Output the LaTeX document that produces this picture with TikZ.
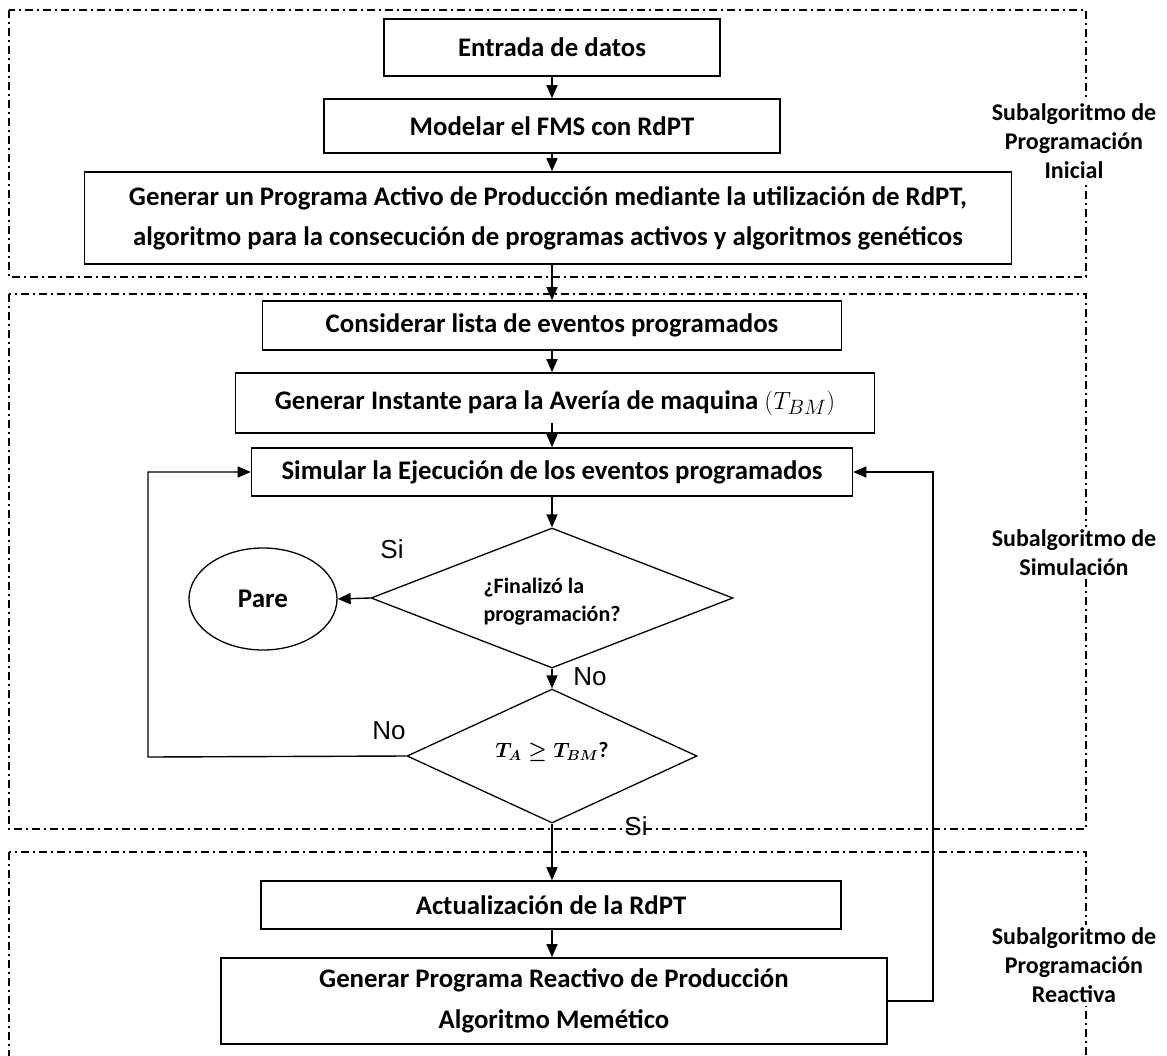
\documentclass[tikz,border=0pt]{standalone}
\usepackage{fontspec}
\setmainfont{Carlito}
\newfontfamily\labelfont{Liberation Sans}
\usetikzlibrary{shapes.geometric,arrows.meta}

\newcommand\bxfont{\fontsize{26.8}{33}\selectfont\bfseries}
\newcommand\smfont{\fontsize{22}{28}\selectfont\bfseries}
\newcommand\sidefont{\fontsize{24}{29}\selectfont\bfseries}
\newcommand\ynfont{\labelfont\fontsize{26}{30}\selectfont}

\begin{document}
\begin{tikzpicture}[x=1pt,y=-1pt,
  procbox/.style={draw, line width=1.6pt, inner sep=0pt, align=center, font=\bxfont},
  decision/.style={diamond, draw, line width=1.3pt, inner sep=0pt},
  dtext/.style={align=left, inner sep=0pt, font=\smfont},
  arr/.style={line width=1.4pt, -{Triangle[length=13pt,width=11pt]}},
  dashdot/.style={line width=1.2pt, dash pattern=on 8pt off 4pt on 2pt off 4pt},
  sidelabel/.style={fill=white, align=center, inner sep=3pt, font=\sidefont},
  yn/.style={font=\ynfont, inner sep=0pt}]

\useasboundingbox (0,0) rectangle (1167,1055);

% sub-algorithm frames
\draw[dashdot] (9,10) rectangle (1086,277);
\draw[dashdot] (9,294) rectangle (1086,829);
\begin{scope}
  \clip (0,0) rectangle (1167,1055);
  \draw[dashdot] (9,852) rectangle (1086,1090);
\end{scope}

% frame captions
\node[sidelabel] (capA) at (1074,141) {Subalgoritmo de\\Programación\\Inicial};
\node[sidelabel] (capB) at (1074,553) {Subalgoritmo de\\Simulación};
\node[sidelabel] (capC) at (1074,965) {Subalgoritmo de\\Programación\\Reactiva};

% initial scheduling
\node[procbox, minimum width=336pt, minimum height=57pt] (entrada) at (552,47.5) {Entrada de datos};
\node[procbox, minimum width=456pt, minimum height=54pt] (modelar) at (552,126) {Modelar el FMS con RdPT};
\node[procbox, minimum width=927pt, minimum height=92pt] (activo) at (548,218)
  {Generar un Programa Activo de Producción mediante la utilización de RdPT,\\[7pt]
   algoritmo para la consecución de programas activos y algoritmos genéticos};

% simulation
\node[procbox, minimum width=579pt, minimum height=49pt] (considerar) at (552,325.5) {Considerar lista de eventos programados};
\node[procbox, minimum width=639pt, minimum height=60pt] (instante) at (555,403)
  {Generar Instante para la Avería de maquina {\mdseries\fontsize{29}{32}\selectfont$(T_{BM})$}};
\node[procbox, minimum width=601pt, minimum height=48pt] (simular) at (552,472) {Simular la Ejecución de los eventos programados};

\node[decision, minimum width=362pt, minimum height=140pt] (fin) at (552,598) {};
\node[dtext] (fintext) at (552,602) {¿Finalizó la\\programación?};
\node[ellipse, draw, line width=1.3pt, minimum width=148pt, minimum height=102pt,
      inner sep=0pt, font=\fontsize{27}{30}\selectfont\bfseries] (pare) at (263,599) {Pare};
\node[decision, minimum width=290pt, minimum height=134pt] (comp) at (552,756) {};
\node[dtext] (comptext) at (552,752) {{\boldmath$T_A \geq T_{BM}$}?};

% reactive scheduling
\node[procbox, minimum width=580pt, minimum height=48pt] (actual) at (551,905) {Actualización de la RdPT};
\node[procbox, minimum width=666pt, minimum height=86pt] (reactivo) at (554,1001)
  {Generar Programa Reactivo de Producción\\[8pt]Algoritmo Memético};

% loop corners
\coordinate (lt) at (148,757);
\coordinate (rt) at (933,1001);

% main flow
\draw[arr] (entrada.south) -- (entrada.south |- modelar.north);
\draw[arr] (modelar.south) -- (modelar.south |- activo.north);
\draw[arr] (activo.south -| considerar.north) -- (considerar.north);
\draw[arr] (considerar.south) -- (considerar.south |- instante.north);
\draw[arr] (simular.north -| considerar.south) ++(0,-24) -- (simular.north -| considerar.south);
\draw[arr] (simular.south) -- (fin.north);
\draw[arr] (fin.west) -- (pare.east);
\draw[arr] (fin.south) -- (comp.north);
\draw[arr] (comp.south) -- (actual.north -| comp.south);
\draw[arr] (actual.south -| comp.south) -- (reactivo.north -| comp.south);

% feedback loops
\draw[arr] (comp.west) -- (lt) |- (simular.west);
\draw[arr] (reactivo.east) -- (rt) |- (simular.east);

% branch labels
\node[yn] (si1) at (392,549) {Si};
\node[yn] (no1) at (590,677) {No};
\node[yn] (no2) at (389,731) {No};
\node[yn] (si2) at (636,826) {Si};

\end{tikzpicture}
\end{document}
